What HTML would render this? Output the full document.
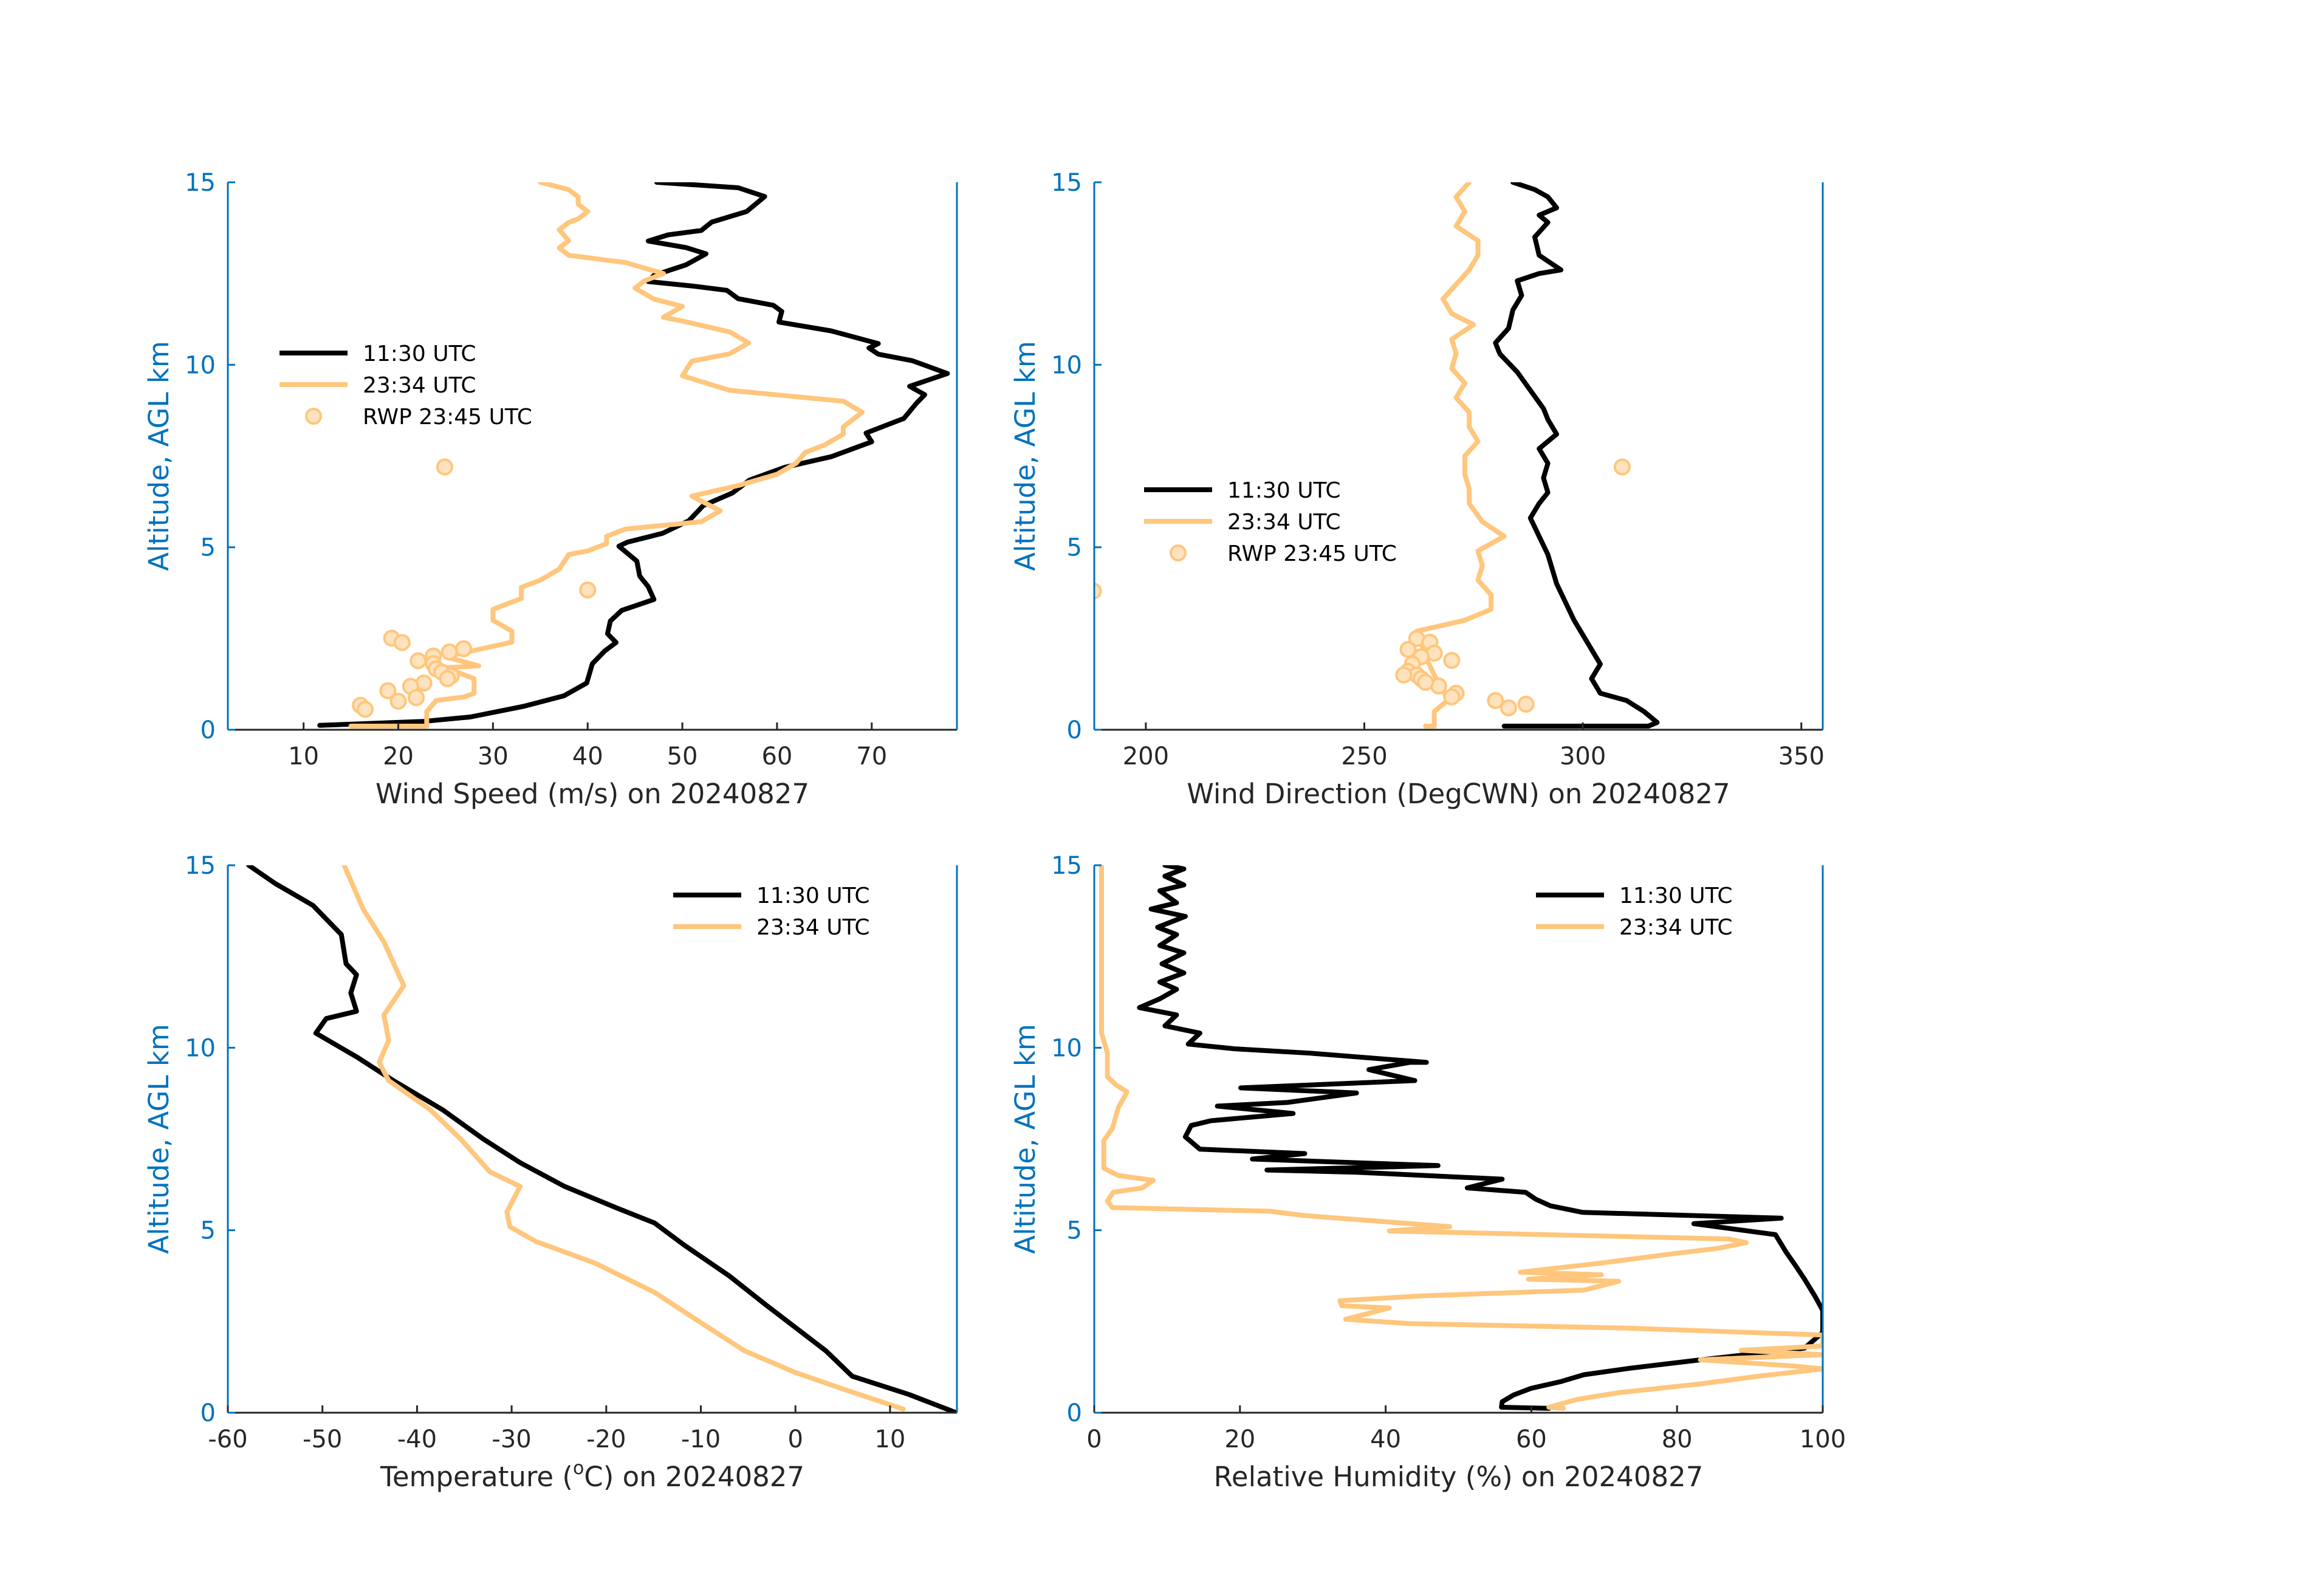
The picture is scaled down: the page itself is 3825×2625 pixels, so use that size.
<!DOCTYPE html>
<html><head><meta charset="utf-8">
<style>
html,body{margin:0;padding:0;background:#fff;}
svg{display:block;font-family:"DejaVu Sans","Liberation Sans",sans-serif;}
</style></head>
<body>
<svg id="chart" width="3825" height="2625" viewBox="0 0 3825 2625" xmlns="http://www.w3.org/2000/svg">
<rect width="3825" height="2625" fill="#fff"/>
<defs>
<clipPath id="c0"><rect x="375" y="300" width="1200" height="901"/></clipPath>
<clipPath id="c1"><rect x="1801" y="300" width="1199" height="901"/></clipPath>
<clipPath id="c2"><rect x="375" y="1424" width="1200" height="901"/></clipPath>
<clipPath id="c3"><rect x="1801" y="1424" width="1199" height="901"/></clipPath>
</defs>
<g id="root"></g>
</svg>
<script>
// ---------- data (value, altitude km) ----------
var wsBlackVal=[11.7,22.7,27.6,33.2,37.5,39.9,40.5,41.8,43.0,42.1,42.4,43.6,47.0,46.4,45.5,45.2,43.3,44.2,47.9,50.7,52.2,55.3,57.1,60.8,65.7,70.0,69.4,73.4,74.7,75.6,74.0,78.0,74.3,70.7,69.7,70.7,65.7,60.2,60.5,59.6,55.9,54.7,51.0,46.4,47.0,50.4,52.5,50.4,46.4,48.5,52.0,53.1,56.8,58.7,55.9,47.3];
var wsBlackAlt=[0.12,0.23,0.35,0.64,0.93,1.28,1.81,2.16,2.39,2.63,2.98,3.27,3.57,3.92,4.21,4.62,5.03,5.14,5.38,5.73,6.14,6.49,6.84,7.19,7.48,7.89,8.13,8.53,8.94,9.18,9.41,9.76,10.11,10.29,10.46,10.58,10.93,11.17,11.46,11.63,11.81,12.04,12.16,12.28,12.45,12.74,13.04,13.21,13.39,13.56,13.68,13.91,14.2,14.61,14.85,15.0];
var wsOrangeVal=[15,23,23,24,27,28,28,25,28.5,25,32,32,30,30,33,33,35,37,38,40,42,42,44,52,54,51,56,60,62,63,65,67,67,69,67,55,50,51,55,57,55,50,48,50,47,45,46,48,44,38,37,38,37,38,39,40,39,39,38,35];
var wsOrangeAlt=[0.1,0.1,0.5,0.8,0.9,1.0,1.4,1.7,1.75,2.0,2.4,2.7,3.0,3.3,3.6,3.9,4.1,4.4,4.8,4.9,5.1,5.3,5.5,5.7,6.0,6.4,6.7,7.0,7.3,7.6,7.8,8.1,8.3,8.7,9.0,9.3,9.7,10.1,10.3,10.6,10.9,11.2,11.3,11.6,11.8,12.1,12.3,12.5,12.8,13.0,13.2,13.4,13.7,13.9,14.0,14.2,14.4,14.6,14.8,15.0];
var wsRwpVal=[24.9,40.0,19.3,20.4,26.9,25.4,23.7,22.1,23.7,24.0,24.6,25.6,25.2,22.7,21.3,18.9,21.9,20.0,16.0,16.5];
var wsRwpAlt=[7.2,3.83,2.51,2.39,2.22,2.13,2.02,1.89,1.81,1.67,1.58,1.48,1.4,1.28,1.19,1.07,0.88,0.78,0.67,0.56];

var wdBlackVal=[282,315,317,314,310,304,302,304,302,300,298,296,294,293,292,290,288,290,292,291,292,290,294,292,291,288,285,281,280,283,284,286,285,290,295,290,289,292,290,294,292,289,284];
var wdBlackAlt=[0.1,0.1,0.2,0.5,0.8,1.0,1.4,1.8,2.2,2.6,3.0,3.5,4.0,4.4,4.8,5.3,5.8,6.2,6.5,6.9,7.3,7.7,8.1,8.5,8.8,9.3,9.8,10.3,10.6,11.0,11.5,11.9,12.3,12.5,12.6,13.0,13.5,13.9,14.1,14.3,14.6,14.8,15.0];
var wdOrangeVal=[264,266,266,269,268,266,264,263,262,273,279,279,276,277,276,282,277,274,274,273,273,276,274,274,271,273,270,271,270,275,270,268,271,274,276,276,271,273,271,274];
var wdOrangeAlt=[0.1,0.1,0.5,0.8,1.1,1.5,2.0,2.4,2.7,3.0,3.3,3.7,4.1,4.5,4.9,5.3,5.7,6.2,6.6,7.0,7.5,7.9,8.3,8.7,9.1,9.5,9.9,10.3,10.7,11.1,11.4,11.8,12.2,12.6,13.0,13.4,13.8,14.2,14.6,15.0];
var wdRwpVal=[309,188,262,265,260,266,263,270,261,260,262,263,259,267,271,270,280,287,283,264];
var wdRwpAlt=[7.2,3.8,2.5,2.4,2.2,2.1,2.0,1.9,1.8,1.6,1.5,1.4,1.5,1.2,1.0,0.9,0.8,0.7,0.6,1.3];

var tBlackVal=[17,16,12,6,3.2,-3.1,-7,-11.8,-14.9,-18.8,-24.4,-29.1,-33,-37.3,-42.5,-46.4,-50.7,-49.6,-46.4,-47,-46.4,-47.5,-48,-51,-55,-57.8];
var tBlackAlt=[0,0.1,0.5,1.0,1.7,2.95,3.75,4.6,5.2,5.6,6.2,6.85,7.5,8.3,9.1,9.75,10.4,10.8,11.0,11.5,12.0,12.3,13.1,13.9,14.5,15.0];
var tOrangeVal=[11.4,5.6,0,-5.4,-10.2,-14.9,-21.2,-27.5,-30.2,-30.5,-29.1,-32.3,-35.4,-38.6,-43,-44,-43,-43.5,-41.4,-43.5,-45.7,-47.7];
var tOrangeAlt=[0.1,0.6,1.1,1.7,2.5,3.3,4.1,4.7,5.1,5.5,6.2,6.6,7.5,8.3,9.1,9.6,10.2,10.9,11.7,12.9,13.8,15.0];

var rhBlackVal=[62.4,55.9,56,57.6,60,64,67.2,73.6,82.4,97.5,100,100,99,97.5,96.3,95,93.5,82.3,94.3,67,62.6,60.6,59.2,51.2,56,36,23.7,47.2,21.7,28.9,14.5,12.5,13.3,16,27.3,16.9,26.5,36,20.1,44,37.7,43.3,45.6,29.7,19.3,12.9,14.5,9.7,11.3,6.2,9,11.3,9,12.3,9.3,12.3,9,11.3,8.7,12.5,7.8,11.3,9,12.3,9.7,12.3,9.7];
var rhBlackAlt=[0.12,0.15,0.3,0.49,0.67,0.85,1.04,1.22,1.43,1.77,2.2,2.8,3.17,3.66,4.02,4.39,4.88,5.18,5.33,5.49,5.67,5.85,6.04,6.16,6.4,6.59,6.65,6.77,6.95,7.1,7.22,7.56,7.87,8.0,8.2,8.4,8.5,8.76,8.9,9.1,9.4,9.6,9.6,9.85,9.97,10.1,10.4,10.6,10.9,11.1,11.34,11.6,11.8,12.05,12.3,12.6,12.8,13.1,13.3,13.6,13.8,13.97,14.3,14.46,14.7,14.9,15.0];
var rhOrangeVal=[64.4,62.4,66.4,72,83.2,91.2,100,96,83.2,100,88.8,100,100,72.8,43.3,34.5,40.5,34,33.7,44.9,67.2,72,59.6,69.6,58.5,69.6,79.2,85.5,89.5,87.1,74.4,40.5,48.8,28.9,24.1,2.5,1.8,2.6,6.6,8.1,3.3,1.3,1.3,2.5,3.3,4.5,3,1.8,1.8,1.0,1.0,1.0];
var rhOrangeAlt=[0.12,0.15,0.37,0.55,0.79,1.0,1.2,1.28,1.45,1.59,1.71,1.83,2.13,2.32,2.44,2.56,2.87,2.93,3.07,3.2,3.36,3.6,3.66,3.78,3.85,4.1,4.35,4.5,4.66,4.76,4.82,4.98,5.1,5.4,5.52,5.62,5.8,6.04,6.16,6.37,6.5,6.7,7.45,7.8,8.36,8.79,8.98,9.2,9.85,10.4,12.6,15.0];

var wsTicks=[10,20,30,40,50,60,70];
var wdTicks=[200,250,300,350];
var tTicks=[-60,-50,-40,-30,-20,-10,0,10];
var rhTicks=[0,20,40,60,80,100];
var altTicks=[0,5,10,15];
// ---------------------------------------------
var NS='http://www.w3.org/2000/svg';
var root=document.getElementById('root');
var BLACK='#000000', ORANGE='#FFC67D', BLUE='#0072BD', AX='#262626';
function mk(tag,attrs,parent){var e=document.createElementNS(NS,tag);for(var k in attrs)e.setAttribute(k,attrs[k]);(parent||root).appendChild(e);return e;}

function panel(o){
  var g=mk('g',{});
  
  
  var L=o.x0,R=o.x1,T=o.y0,B=o.y1;
  function sx(v){return L+(v-o.xmin)/(o.xmax-o.xmin)*(R-L);}
  function sy(a){return B-a/15*(B-T);}
  var pg=mk('g',{'clip-path':'url(#'+o.clip+')'},g);
  o.series.forEach(function(s){
    var d='';
    for(var i=0;i<s.v.length;i++){d+=(i?'L':'M')+sx(s.v[i]).toFixed(1)+' '+sy(s.a[i]).toFixed(1);}
    var p=mk('path',{d:d,fill:'none',stroke:s.c,'stroke-width':8,'stroke-linejoin':'round','stroke-linecap':'round'},pg);
    
    
  });
  if(o.rwp){
    for(var i=0;i<o.rwp.v.length;i++){
      var c=mk('circle',{cx:sx(o.rwp.v[i]),cy:sy(o.rwp.a[i]),r:12,fill:'#FEE3BE',stroke:ORANGE,'stroke-width':4},pg);
      
      
    }
  }
  var xa=mk('line',{x1:L,y1:B,x2:R,y2:B,stroke:AX,'stroke-width':3},g);
  
  
  var ya=mk('line',{x1:L,y1:T,x2:L,y2:B,stroke:BLUE,'stroke-width':3},g);
  
  
  var yr=mk('line',{x1:R,y1:T,x2:R,y2:B,stroke:BLUE,'stroke-width':3},g);
  
  
  o.xticks.forEach(function(t){
    var X=sx(t);
    mk('line',{x1:X,y1:B,x2:X,y2:B-12,stroke:AX,'stroke-width':3},g);
    var tx=mk('text',{x:X,y:B+57,'text-anchor':'middle','font-size':40,fill:AX},g);
    tx.textContent=t;
    
    
  });
  altTicks.forEach(function(t){
    var Y=sy(t);
    mk('line',{x1:L,y1:Y,x2:L+12,y2:Y,stroke:BLUE,'stroke-width':3},g);
    var tx=mk('text',{x:L-20,y:Y+14,'text-anchor':'end','font-size':40,fill:BLUE},g);
    tx.textContent=t;
    
    
  });
  var xl=mk('text',{x:(L+R)/2,y:B+121,'text-anchor':'middle','font-size':45,fill:AX},g);
  xl.innerHTML=o.xlabel;
  
  
  var yx=L-98, yy=(T+B)/2;
  var yl=mk('text',{x:yx,y:yy,'text-anchor':'middle','font-size':45,fill:BLUE,transform:'rotate(-90 '+yx+' '+yy+')'},g);
  yl.textContent='Altitude, AGL km';
  
  
  var lg=mk('g',{},g);
  
  
  var labels=['11:30 UTC','23:34 UTC','RWP 23:45 UTC'];
  var n=o.rwp?3:2;
  for(var k=0;k<n;k++){
    var ly=o.lgY+k*52;
    if(k<2){mk('line',{x1:o.lgX,y1:ly,x2:o.lgX+112,y2:ly,stroke:k?ORANGE:BLACK,'stroke-width':8},lg);}
    else{mk('circle',{cx:o.lgX+56,cy:ly,r:12,fill:'#FEE3BE',stroke:ORANGE,'stroke-width':4},lg);}
    var lt=mk('text',{x:o.lgX+137,y:ly+13,'font-size':36,fill:'#000'},lg);
    lt.textContent=labels[k];
    
    
  }
}

panel({name:'wind-speed-panel',clip:'c0',x0:375,x1:1575,y0:300,y1:1201,xmin:2,xmax:79,xticks:wsTicks,
  xlabel:'Wind Speed (m/s) on 20240827',lgX:460,lgY:581,
  series:[{name:'wind-speed-1130',v:wsBlackVal,a:wsBlackAlt,c:BLACK},{name:'wind-speed-2334',v:wsOrangeVal,a:wsOrangeAlt,c:ORANGE}],
  rwp:{v:wsRwpVal,a:wsRwpAlt}});
panel({name:'wind-direction-panel',clip:'c1',x0:1801,x1:3000,y0:300,y1:1201,xmin:188.2,xmax:354.9,xticks:wdTicks,
  xlabel:'Wind Direction (DegCWN) on 20240827',lgX:1883,lgY:806,
  series:[{name:'wind-direction-1130',v:wdBlackVal,a:wdBlackAlt,c:BLACK},{name:'wind-direction-2334',v:wdOrangeVal,a:wdOrangeAlt,c:ORANGE}],
  rwp:{v:wdRwpVal,a:wdRwpAlt}});
panel({name:'temperature-panel',clip:'c2',x0:375,x1:1575,y0:1424,y1:2325,xmin:-60,xmax:17.07,xticks:tTicks,
  xlabel:'Temperature (<tspan font-size="30" dy="-20">o</tspan><tspan dy="20">C) on 20240827</tspan>',lgX:1108,lgY:1473,
  series:[{name:'temperature-1130',v:tBlackVal,a:tBlackAlt,c:BLACK},{name:'temperature-2334',v:tOrangeVal,a:tOrangeAlt,c:ORANGE}]});
panel({name:'humidity-panel',clip:'c3',x0:1801,x1:3000,y0:1424,y1:2325,xmin:0,xmax:100,xticks:rhTicks,
  xlabel:'Relative Humidity (%) on 20240827',lgX:2528,lgY:1473,
  series:[{name:'humidity-1130',v:rhBlackVal,a:rhBlackAlt,c:BLACK},{name:'humidity-2334',v:rhOrangeVal,a:rhOrangeAlt,c:ORANGE}]});
</script>
</body></html>
